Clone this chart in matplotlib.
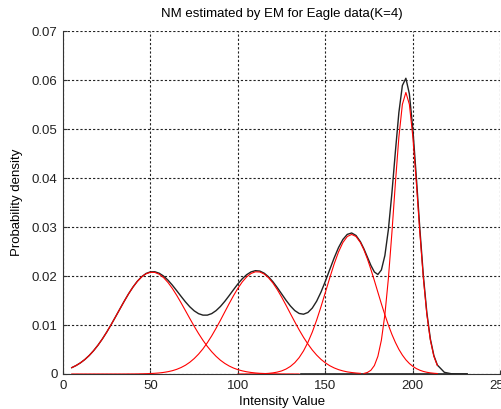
import numpy as np
import matplotlib
matplotlib.use("Agg")
import matplotlib.pyplot as plt

# intensity values where the densities were read (finer steps around the sharp peak)
intensity = np.concatenate([np.arange(5, 170.1, 2.5), np.arange(172, 215, 2), [218, 222, 226, 230, 231]])

# densities in units of 1e-5
mixture = [129, 173, 228, 296, 378, 476, 588, 715, 855, 1006, 1165, 1326, 1486, 1638, 1775, 1894, 1987,
           2053, 2086, 2088, 2058, 2000, 1917, 1815, 1702, 1586, 1473, 1372, 1290, 1232, 1202, 1202, 1233,
           1294, 1379, 1484, 1601, 1723, 1840, 1945, 2028, 2085, 2110, 2102, 2059, 1984, 1884, 1764, 1635,
           1506, 1389, 1295, 1236, 1221, 1256, 1346, 1487, 1674, 1896, 2134, 2370, 2582, 2748, 2851, 2880,
           2829, 2702, 2557, 2388, 2218, 2083, 2032, 2125, 2420, 2949, 3689, 4541, 5340, 5892, 6040, 5720,
           4991, 4006, 2955, 2002, 1247, 714, 376, 182, 34, 5, 1, 0, 0]

comp1 = [129, 173, 228, 296, 378, 476, 588, 715, 855, 1006, 1165, 1326, 1485, 1637, 1774, 1891, 1984, 2047,
         2077, 2074, 2037, 1968, 1870, 1748, 1607, 1454, 1294, 1133, 975, 826, 688, 564, 455, 361, 281, 216,
         163, 121, 88, 64, 45, 31, 21, 14, 10, 6, 4, 3, 2, 1, 1, 0, 0]
comp2 = [0, 0, 0, 0, 0, 0, 0, 0, 0, 0, 0, 0, 0, 1, 1, 2, 4, 6, 9, 14, 21, 32, 47, 67, 95, 132, 179, 240, 315,
         406, 513, 638, 778, 933, 1097, 1268, 1438, 1601, 1751, 1881, 1983, 2053, 2087, 2083, 2042, 1965,
         1857, 1723, 1570, 1404, 1233, 1064, 901, 749, 612, 490, 386, 298, 227, 169, 124, 89, 63, 43, 30, 20, 13]
comp3 = [0, 0, 1, 1, 2, 4, 7, 13, 23, 39, 63, 101, 155, 231, 335, 472, 645, 855, 1101, 1376, 1669, 1965,
         2247, 2493, 2685, 2808, 2850, 2808, 2685, 2537, 2351, 2137, 1907, 1669, 1433, 1208, 999, 810, 645,
         503, 386, 290, 214, 155, 110, 77, 52, 35, 23, 15, 9]
comp4 = [11, 31, 76, 173, 361, 691, 1212, 1950, 2878, 3896, 4836, 5507, 5750, 5507, 4836, 3896, 2878, 1950,
         1212, 691, 361, 173]
components = [comp1, comp2, comp3, comp4]
comp_ranges = [(5, 135), (5, 170), (100, 214), (172, 214)]

# flat black piece lying on the x axis
tail_x = [136, 231]
tail_y = [0, 0]

xticks = [0, 50, 100, 150, 200, 250]
yticks = [0, 0.01, 0.02, 0.03, 0.04, 0.05, 0.06, 0.07]
ytick_labels = ['0', '0.01', '0.02', '0.03', '0.04', '0.05', '0.06', '0.07']

plt.rcParams['font.family'] = ['Liberation Sans', 'DejaVu Sans']
plt.rcParams['font.size'] = 9.5

fig = plt.figure(figsize=(5.01, 4.09), dpi=100)
ax = fig.add_axes([0.1257, 0.0856, 0.873, 0.838])

ax.plot(intensity, np.array(mixture) * 1e-5, color='#222222', lw=1.0, clip_on=False)
ax.plot(tail_x, tail_y, color='#222222', lw=1.2, clip_on=False)
for comp, (lo, hi) in zip(components, comp_ranges):
    sel = (intensity >= lo) & (intensity <= hi)
    ax.plot(intensity[sel], np.array(comp) * 1e-5, color='red', lw=0.8, clip_on=False)

ax.set_xlim(0, 250)
ax.set_ylim(0, 0.07)
ax.set_xticks(xticks)
ax.set_yticks(yticks)
ax.set_yticklabels(ytick_labels)
ax.grid(True, color='#222222', linestyle=(0, (2, 1.8)), linewidth=0.8)
for s in ['top', 'right']:
    ax.spines[s].set_visible(False)
for s in ['left', 'bottom']:
    ax.spines[s].set_color('#333333')
    ax.spines[s].set_linewidth(0.8)
ax.tick_params(direction='in', length=3, width=0.8, colors='#333333', labelcolor='#222222', pad=4)

ax.set_title('NM estimated by EM for Eagle data(K=4)', fontsize=9.5, pad=10)
ax.set_xlabel('Intensity Value', labelpad=3)
ax.set_ylabel('Probability density', labelpad=6)

fig.savefig('out.png', dpi=100)
